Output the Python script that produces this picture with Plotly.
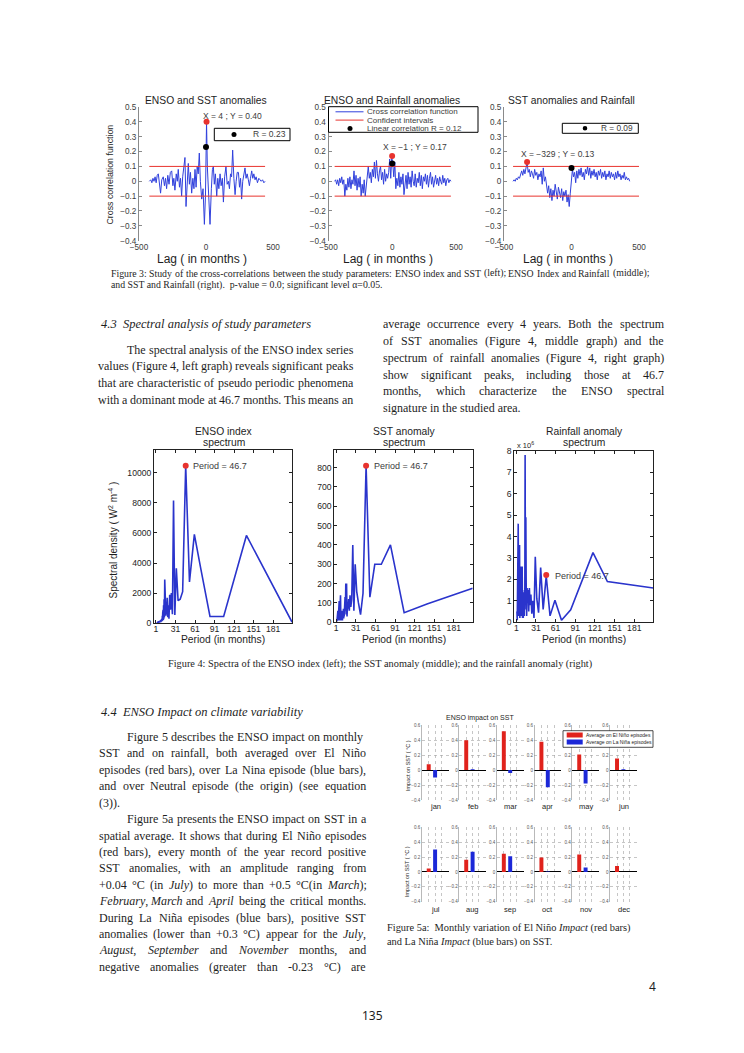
import re
import plotly.graph_objects as go

W, H = 744, 1053

# ======================= DATA =======================
# Figure 3 - cross-correlation functions (lag in months, correlation)
ccf1_lags = [-423, -412, -404, -396, -388, -380, -372, -364, -356, -348,
             -339, -330, -319, -310, -302, -294, -285, -276, -266, -256,
             -247, -240, -232, -222, -214, -207, -198, -190, -182, -174,
             -166, -157, -149, -140, -132, -124, -116, -107, -98, -90,
             -82, -74, -66, -58, -50, -42, -32, -22, -12, -4,
             4, 10, 18, 30, 40, 48, 55, 62, 70, 80,
             88, 96, 105, 113, 122, 130, 139, 149, 158, 167,
             175, 183, 191, 199, 208, 217, 225, 233, 242, 250,
             258, 266, 274, 282, 291, 299, 307, 316, 324, 332,
             341, 349, 357, 366, 374, 384, 394, 403, 412, 422,
             432, 441]
ccf1_vals = [0.00, 0.01, -0.01, 0.02, 0.00, 0.03, -0.01, 0.04, 0.05, -0.02,
             -0.08, 0.01, 0.03, -0.03, 0.02, -0.05, 0.04, -0.02, 0.06, 0.07,
             -0.03, 0.02, -0.06, 0.05, 0.00, 0.08, -0.04, 0.02, -0.10, 0.03,
             0.10, 0.16, -0.17, 0.05, 0.12, -0.02, 0.06, -0.08, 0.02, -0.05,
             0.08, -0.04, 0.10, 0.05, 0.19, 0.00, -0.12, -0.05, -0.29, -0.10,
             0.40, 0.10, -0.05, -0.29, -0.05, 0.08, 0.10, -0.02, 0.05, -0.10,
             0.02, -0.05, 0.05, -0.03, 0.02, -0.14, 0.03, 0.10, -0.02, 0.00,
             -0.05, 0.05, 0.03, 0.21, 0.02, -0.09, 0.00, 0.06, 0.06, -0.04,
             0.02, -0.12, 0.00, 0.04, 0.09, 0.02, 0.05, 0.01, -0.03, 0.02,
             0.07, 0.02, 0.05, 0.01, 0.03, -0.01, 0.02, 0.01, 0.00, 0.01,
             -0.01, 0.00]

ccf2_lag0, ccf2_step = -452, 8
ccf2_vals = [0.00, 0.01, -0.02, 0.01, -0.03, 0.02, -0.01, 0.03, -0.02, 0.01,
             -0.10, -0.02, -0.06, 0.02,
             -0.04, 0.03, -0.05, 0.01, -0.02, 0.07, -0.03, 0.04, -0.06, 0.02, -0.04, 0.03,
             -0.10, -0.02, -0.08, 0.01, -0.10, -0.03, 0.05,
             0.10, 0.02, 0.06, -0.01, 0.08, 0.03, 0.13, 0.02, 0.14, 0.05,
             0.00, 0.07, 0.10, 0.01, 0.06, -0.02, 0.08, 0.00, 0.05, 0.02,
             0.06, 0.15, 0.02, 0.16, 0.12, 0.03, 0.13,
             -0.05, 0.02, -0.03, 0.06, -0.04, 0.03, -0.02, 0.05, -0.09, 0.01,
             0.04, -0.05, 0.06, -0.02, 0.03, -0.04, 0.07, 0.00, -0.03, 0.05,
             -0.04, 0.02, -0.01, 0.06, -0.03, 0.04, -0.05, 0.03, 0.00, 0.05,
             -0.02, 0.04, -0.04, 0.02, 0.06,
             -0.02, 0.03, -0.04, 0.01, 0.04, -0.02, 0.02, -0.03, 0.03, 0.00,
             -0.02, 0.04, -0.01, 0.02, -0.03, 0.01, 0.02, -0.01, 0.01, 0.00]

ccf3_lag0, ccf3_step = -433, 8
ccf3_vals = [0.00, 0.01, 0.00, 0.02, 0.01, 0.03, 0.02, 0.05,
             0.07, 0.04, 0.08, 0.05, 0.09, 0.13, 0.06, 0.08, 0.03, 0.07,
             0.05, 0.02, 0.08, 0.04, 0.06, 0.01, 0.05, 0.03, 0.07,
             -0.02, 0.09, 0.00, 0.03, -0.04,
             -0.08, -0.03, -0.11, -0.05, -0.13, -0.06, -0.10, -0.02, -0.09, -0.12,
             -0.04, -0.08, -0.11, -0.05, -0.13, -0.07, -0.10, -0.06, -0.14, -0.09,
             -0.17, -0.08,
             0.02, 0.08, 0.03, 0.06, -0.01, 0.07, 0.02, 0.08, 0.04, 0.09,
             0.03, 0.06, 0.01, 0.08, 0.05, 0.10, 0.04, 0.09, 0.02, 0.07,
             0.04, 0.08, 0.03, 0.06, 0.01, 0.07, 0.04, 0.08, 0.02, 0.06,
             0.03, 0.07, 0.01, 0.05, 0.03, 0.07, 0.02, 0.06, 0.03, 0.05,
             0.01, 0.06, 0.02, 0.07, 0.03, 0.05, 0.01, 0.04, 0.02, 0.06,
             0.01, 0.03, 0.01, 0.02, 0.00]

ci_level = 0.1
ci_from = [-423, -452, -433]
ci_to = [441, 460, 500]
ccf_peak_lag = [4, -1, -329]
ccf_peak_val = [0.40, 0.17, 0.13]
ccf_r = [0.23, 0.12, 0.09]
ccf_titles = ["ENSO and SST anomalies", "ENSO and Rainfall anomalies", "SST anomalies and Rainfall"]
ccf_ticks = [-500, 0, 500]

# Figure 4 - spectra (period in months, spectral density)
periods = [210, 140, 105, 84, 70, 60, 52.5, 46.7, 42, 38.2, 35, 32.3, 30, 28, 26.3, 24.7,
           23.3, 22.1, 21, 20, 19.1, 18.3, 17.5, 16.8, 16.2, 15.6, 15, 14.5, 14, 13.5, 13.1, 12.7,
           12.4, 12, 11.7, 11.4, 11.1, 10.8, 10.5, 10, 9.5, 9, 8.5, 8, 7.5, 7, 6.5, 6,
           5.5, 5, 4.5, 4, 3.5, 3, 2.5, 2]
rain_periods = [210, 140, 118, 84, 70, 60, 52.5, 46.7, 42, 38.2, 35, 32.3, 30, 28, 26.3, 24.7,
                23.3, 22.1, 21, 20, 19.1, 18.3, 17.5, 16.8, 16.2, 15.6, 15, 14.5, 14, 13.5, 13.1, 12.7,
                12.4, 12, 11.7, 11.4, 11.1, 10.8, 10.5, 10, 9.5, 9, 8.5, 8, 7.5, 7, 6.5, 6,
                5.5, 5, 4.5, 4, 3.5, 3, 2.5, 2]
enso_spec = [80, 5830, 450, 450, 3600, 5900, 2750, 10450,
             2100, 1600, 1500, 3650, 550, 8150, 600, 2000,
             900, 1900, 300, 1200, 400, 1700, 600, 1300,
             500, 2500, 700, 2900, 400, 1600, 300, 1200,
             200, 900, 300, 700, 200, 500, 150, 300,
             100, 250, 80, 200, 60, 150, 50, 120,
             40, 100, 30, 80, 20, 60, 10, 30]
sst_spec = [176, 95, 50, 400, 300, 300, 130, 810,
            150, 40, 100, 160, 300, 60, 400, 120,
            80, 140, 60, 120, 70, 90, 30, 200,
            40, 200, 60, 130, 40, 80, 30, 60,
            20, 70, 30, 50, 20, 60, 10, 40,
            20, 60, 10, 30, 140, 20, 50, 10,
            110, 20, 40, 10, 60, 5, 20, 5]
rain_spec_e6 = [1.6, 1.9, 3.25, 0.58, 0.1, 1.03, 0.3, 2.15,
                0.6, 2.55, 0.45, 1.1, 3.05, 0.2, 1.0, 0.4,
                1.3, 0.8, 1.6, 0.5, 1.5, 0.9, 1.6, 0.3,
                1.3, 4.9, 1.0, 7.8, 0.6, 1.5, 0.3, 1.2,
                0.5, 1.4, 0.2, 1.1, 0.4, 1.3, 0.2, 2.6,
                0.5, 1.8, 0.3, 2.6, 0.6, 1.5, 0.2, 3.6,
                0.5, 2.0, 0.3, 4.6, 0.8, 2.2, 0.1, 0.5]
spec_peak_period = 46.7
spec_peak = [10450, 810, 2.2]
spec_titles = [("ENSO index", "spectrum"), ("SST anomaly", "spectrum"), ("Rainfall anomaly", "spectrum")]
period_ticks = [1, 31, 61, 91, 121, 151, 181]

# Figure 5a - ENSO impact on SST (deg C)
months = ["jan", "feb", "mar", "apr", "may", "jun", "jul", "aug", "sep", "oct", "nov", "dec"]
el_nino = [0.08, 0.40, 0.52, 0.38, 0.21, 0.155, 0.045, 0.165, 0.245, 0.195, 0.235, 0.08]
la_nina = [-0.10, 0.01, -0.04, -0.23, -0.18, 0.01, 0.30, 0.27, 0.21, 0.005, 0.06, 0.0]

# ======================= HELPERS =======================
SANS = "Liberation Sans, Arial, sans-serif"
SERIF = "Liberation Serif, Times New Roman, serif"
TXT = "#1e1e1e"
GTXT = "#3c3c3c"
BLUE = "#3040dc"
SBLUE = "#2a34cc"
RED = "#e8332e"
BRED = "#e0221c"
BBLUE = "#1c28d8"


def fx(x):
    return x / W


def fy(y):
    return 1 - y / H


fig = go.Figure()
layout = dict(width=W, height=H, margin=dict(l=0, r=0, t=0, b=0),
              paper_bgcolor="white", plot_bgcolor="rgba(0,0,0,0)", showlegend=False)
annotations = []
shapes = []


def ax_names(i):
    if i == 1:
        return "xaxis", "yaxis", "x", "y"
    return f"xaxis{i}", f"yaxis{i}", f"x{i}", f"y{i}"


def add_axes(i, x0, x1, ytop, ybot, xcfg, ycfg):
    xa, ya, xr, yr = ax_names(i)
    base = dict(showgrid=False, zeroline=False, automargin=False, fixedrange=True)
    layout[xa] = {**base, "domain": [fx(x0), fx(x1)], "anchor": yr, **xcfg}
    layout[ya] = {**base, "domain": [fy(ybot), fy(ytop)], "anchor": xr, **ycfg}
    return xr, yr


def note(text, x, y, size, family=SANS, color=TXT, xanchor="center", angle=0):
    annotations.append(dict(text=text, x=fx(x), y=fy(y), xref="paper", yref="paper",
                            showarrow=False, xanchor=xanchor, yanchor="middle",
                            textangle=angle, borderpad=0,
                            font=dict(family=family, size=size, color=color)))


def rect(x0, y0, x1, y1, line="black", fill="white", lw=1):
    shapes.append(dict(type="rect", xref="paper", yref="paper", x0=fx(x0), x1=fx(x1),
                       y0=fy(y1), y1=fy(y0), line=dict(color=line, width=lw), fillcolor=fill,
                       layer="above"))


def hline(x0, x1, y, color, lw=1):
    shapes.append(dict(type="line", xref="paper", yref="paper", x0=fx(x0), x1=fx(x1),
                       y0=fy(y), y1=fy(y), line=dict(color=color, width=lw), layer="above"))


def dot(cx, cy, r, color):
    shapes.append(dict(type="circle", xref="paper", yref="paper", x0=fx(cx - r), x1=fx(cx + r),
                       y0=fy(cy + r), y1=fy(cy - r), line=dict(color=color, width=0),
                       fillcolor=color, layer="above"))


_W = {}
for ch in " .,\u00a0":
    _W[ch] = 250
for ch in "ijlt:;":
    _W[ch] = 278
for ch in "fr()-I'":
    _W[ch] = 333
for ch in "sJ":
    _W[ch] = 389
_W["\u00b0"] = 400
for ch in "acez\u00e9":
    _W[ch] = 444
for ch in "FPS":
    _W[ch] = 556
for ch in "+=":
    _W[ch] = 564
for ch in "ELTZ":
    _W[ch] = 611
for ch in "BCR":
    _W[ch] = 667
for ch in "wADGHKNOQUVXY":
    _W[ch] = 722
_W["m"] = 778
_W["M"] = 889
_W["W"] = 944


def twidth(s, size):
    plain = re.sub(r"<[^>]+>", "", s)
    return sum(_W.get(c, 500) for c in plain) * size / 1000.0


def text_line(text, x0, x1, y, size, family=SERIF, color=TXT):
    words = text.split(" ")
    words = [w for w in words if w]
    if x1 is None or len(words) < 2:
        note(text, x0, y, size, family, color, xanchor="left")
        return
    ww = [twidth(w, size) for w in words]
    tot = sum(ww)
    gap = (x1 - x0 - tot) / (len(words) - 1)
    if gap < 0.2 * size:
        nat = tot + 0.25 * size * (len(words) - 1)
        note(text, x0, y, size * (x1 - x0) / nat, family, color, xanchor="left")
        return
    x = x0
    for w, wd in zip(words, ww):
        note(w, x, y, size, family, color, xanchor="left")
        x += wd + gap


# ======================= FIGURE 3 =======================
ccf_lags = [ccf1_lags,
            [ccf2_lag0 + ccf2_step * k for k in range(len(ccf2_vals))],
            [ccf3_lag0 + ccf3_step * k for k in range(len(ccf3_vals))]]
ccf_vals = [ccf1_vals, ccf2_vals, ccf3_vals]
ccf_boxes = [(139, 273), (328.5, 456), (504, 639)]
tickfont_s = dict(family=SANS, size=8.2, color=GTXT)
for k in range(3):
    x0, x1 = ccf_boxes[k]
    xr, yr = add_axes(k + 1, x0, x1, 107, 240.7,
                      dict(range=[-500, 500], tickvals=ccf_ticks, ticks="", showline=False,
                           tickfont=tickfont_s, ticklabelstandoff=0),
                      dict(range=[-0.4, 0.5], tick0=0, dtick=0.1, showline=True, linecolor="#8a8a8a",
                           linewidth=1, ticks="inside", ticklen=3, tickcolor="#8a8a8a",
                           tickfont=tickfont_s))
    fig.add_trace(go.Scatter(x=ccf_lags[k], y=ccf_vals[k], mode="lines",
                             line=dict(color=BLUE, width=1), xaxis=xr, yaxis=yr, hoverinfo="skip"))
    fig.add_trace(go.Scatter(x=[ci_from[k], ci_to[k], None, ci_from[k], ci_to[k]],
                             y=[ci_level, ci_level, None, -ci_level, -ci_level], mode="lines",
                             line=dict(color=RED, width=1), xaxis=xr, yaxis=yr, hoverinfo="skip"))
    fig.add_trace(go.Scatter(x=[ccf_peak_lag[k]], y=[ccf_peak_val[k]], mode="markers",
                             marker=dict(color=RED, size=6), xaxis=xr, yaxis=yr, hoverinfo="skip"))
    fig.add_trace(go.Scatter(x=[0], y=[ccf_r[k]], mode="markers",
                             marker=dict(color="black", size=6), xaxis=xr, yaxis=yr, hoverinfo="skip"))
    note(ccf_titles[k], (x0 + x1) / 2, 100, 10.3, SANS, TXT)
    note("Lag ( in months )", (x0 + x1) / 2 - 4, 258.5, 12, SANS, TXT)

note("Cross correlation function", 109.5, 175, 8.8, SANS, TXT, angle=-90)
# point labels
note(f"X = {ccf_peak_lag[0]} ; Y = {ccf_peak_val[0]:.2f}", 202, 115.5, 8.5, SANS, GTXT, xanchor="left")
note(f"X = \u2212{abs(ccf_peak_lag[1])} ; Y = {ccf_peak_val[1]:.2f}", 382, 147, 8.5, SANS, GTXT, xanchor="left")
note(f"X = \u2212{abs(ccf_peak_lag[2])} ; Y = {ccf_peak_val[2]:.2f}", 520, 154.5, 8.5, SANS, GTXT, xanchor="left")
# legend chart 1
rect(214.3, 128.3, 290, 140.7)
dot(234, 134.5, 2.5, "black")
note(f"R = {ccf_r[0]:.2f}", 251.5, 134.5, 8.5, SANS, GTXT, xanchor="left")
# legend chart 2
rect(328.5, 106.7, 478, 132.3)
hline(335.5, 363.5, 111.8, BLUE)
hline(335.5, 363.5, 120.1, RED)
dot(350, 128.4, 2.5, "black")
note("Cross correlation function", 366, 111.8, 8, SANS, GTXT, xanchor="left")
note("Confident intervals", 366, 120.1, 8, SANS, GTXT, xanchor="left")
note(f"Linear correlation R = {ccf_r[1]:.2f}", 366, 128.4, 8, SANS, GTXT, xanchor="left")
# legend chart 3
rect(562.3, 123.3, 638.3, 133.3)
dot(585, 128.3, 2.3, "black")
note(f"R = {ccf_r[2]:.2f}", 600, 128.3, 8.3, SANS, GTXT, xanchor="left")

# ======================= FIGURE 4 =======================
spec_boxes = [(154, 292, 450, 623.3), (334.3, 472.7, 450, 622.3), (514.3, 653.3, 450.7, 622.3)]
spec_ranges = [[0, 11500], [0, 891], [0, 8]]
spec_dtick = [2000, 100, 1]
spec_x = [periods, periods, rain_periods]
spec_y = [enso_spec, sst_spec, rain_spec_e6]
tf2 = dict(family=SANS, size=8.6, color=TXT)
for k in range(3):
    x0, x1, yt, yb = spec_boxes[k]
    xr, yr = add_axes(4 + k, x0, x1, yt, yb,
                      dict(range=[-2, 210], tickvals=period_ticks, showline=True, mirror="ticks",
                           linecolor="#222", linewidth=1, ticks="inside", ticklen=3, tickcolor="#222",
                           tickfont=tf2, ticklabelstandoff=-3),
                      dict(range=spec_ranges[k], tick0=0, dtick=spec_dtick[k], showline=True,
                           mirror="ticks", linecolor="#222", linewidth=1, ticks="inside", ticklen=3,
                           tickcolor="#222", tickfont=tf2, tickformat="d"))
    fig.add_trace(go.Scatter(x=spec_x[k], y=spec_y[k], mode="lines",
                             line=dict(color=SBLUE, width=1.6), xaxis=xr, yaxis=yr, hoverinfo="skip"))
    fig.add_trace(go.Scatter(x=[spec_peak_period], y=[spec_peak[k]], mode="markers",
                             marker=dict(color=RED, size=6), xaxis=xr, yaxis=yr, hoverinfo="skip"))
    cx = (x0 + x1) / 2
    note(spec_titles[k][0], cx + 0.5, 431.5, 10.3, SANS, TXT)
    note(spec_titles[k][1], cx + 0.5, 442, 10.3, SANS, TXT)
    note("Period (in months)", cx, 639.5, 10.3, SANS, TXT)

note("Period = 46.7", 191.5, 465.7, 9, SANS, GTXT, xanchor="left")
note("Period = 46.7", 373, 465.7, 9, SANS, GTXT, xanchor="left")
note("Period = 46.7", 554, 575.7, 9, SANS, GTXT, xanchor="left")
note("x 10<sup>6</sup>", 516, 444.5, 7.5, SANS, TXT, xanchor="left")
note("Spectral density ( W<sup>2</sup> m<sup>-4</sup> )", 112.5, 540, 10, SANS, TXT, angle=-90)

# ======================= FIGURE 5a =======================
bar_lefts = [421.7, 459.2, 496.8, 534.4, 572.2, 610]
bar_rows = [(725.3, 800), (827.3, 901.7)]
month_y = [806.7, 909.3]
tf3 = dict(family=SANS, size=4.5, color="#555")
for m in range(12):
    r, c = divmod(m, 6)
    x0 = bar_lefts[c]
    x1 = x0 + 26.8
    yt, yb = bar_rows[r]
    xr, yr = add_axes(7 + m, x0, x1, yt, yb,
                      dict(range=[-0.1, 4.1], tickvals=[0, 1, 2, 3, 4], showticklabels=False, ticks="",
                           showgrid=True, gridcolor="#a0a0a0", griddash="dot", gridwidth=0.6),
                      dict(range=[-0.4, 0.6], tick0=0, dtick=0.2, showgrid=True, gridcolor="#a0a0a0",
                           griddash="dot", gridwidth=0.6, zeroline=True, zerolinecolor="black",
                           zerolinewidth=1, showline=True, linecolor="#8a8a8a", linewidth=0.6,
                           ticks="", tickfont=tf3))
    fig.add_trace(go.Bar(x=[1, 2], y=[el_nino[m], la_nina[m]], width=0.62,
                         marker=dict(color=[BRED, BBLUE], line=dict(width=0)),
                         xaxis=xr, yaxis=yr, hoverinfo="skip"))
    note(months[m], x0 + 13.5, month_y[r], 7.5, SANS, TXT)

note("ENSO impact on SST", 480, 717.5, 7, SANS, TXT)
note("Impact on SST ( \u00b0C )", 408, 765, 5.5, SANS, TXT, angle=-90)
note("Impact on SST ( \u00b0C )", 407, 871, 5.5, SANS, TXT, angle=-90)
rect(563, 730.7, 653, 747.3, lw=0.7)
shapes.append(dict(type="rect", xref="paper", yref="paper", x0=fx(566.7), x1=fx(582.7),
                   y0=fy(737.5), y1=fy(732.5), line=dict(width=0), fillcolor=BRED, layer="above"))
shapes.append(dict(type="rect", xref="paper", yref="paper", x0=fx(566.7), x1=fx(582.7),
                   y0=fy(744.5), y1=fy(739.5), line=dict(width=0), fillcolor=BBLUE, layer="above"))
note("Average on El Ni\u00f1o episodes", 584.5, 735, 5, SANS, TXT, xanchor="left")
note("Average on La Ni\u00f1a episodes", 584.5, 742, 5, SANS, TXT, xanchor="left")

# ======================= PAGE TEXT =======================
NB = "\u00a0"
text_line("Figure 3: Study of the cross-correlations between the study parameters: ENSO index and SST (left); ENSO Index and Rainfall (middle);",
          110, 648, 273.5, 9.8)
text_line(f"and SST and Rainfall (right).{NB}{NB}p-value = 0.0; significant level \u03b1=0.05.", 110, None, 285, 9.8)

note(f"<i>4.3{NB}{NB}Spectral analysis of study parameters</i>", 100, 324, 12.5, SERIF, TXT, xanchor="left")

left_top = [
    ("The spectral analysis of the ENSO index series", 126, 352, 349.5),
    ("values (Figure 4, left graph) reveals significant peaks", 97, 352, 366.5),
    ("that are characteristic of pseudo periodic phenomena", 97, 352, 383),
    ("with a dominant mode at 46.7 months. This means an", 97, 352, 400),
]
for t, a, b, y in left_top:
    text_line(t, a, b, y, 12)

right_top = [
    ("average occurrence every 4 years. Both the spectrum", 382, 663, 324.3),
    ("of SST anomalies (Figure 4, middle graph) and the", 382, 663, 341),
    ("spectrum of rainfall anomalies (Figure 4, right graph)", 382, 663, 357.7),
    ("show significant peaks, including those at 46.7", 382, 663, 374.5),
    ("months, which characterize the ENSO spectral", 382, 663, 391.3),
    ("signature in the studied area.", 382, None, 408),
]
for t, a, b, y in right_top:
    text_line(t, a, b, y, 12)

text_line("Figure 4: Spectra of the ENSO index (left); the SST anomaly (middle); and the rainfall anomaly (right)",
          167, None, 664, 10.3)

note(f"<i>4.4{NB}{NB}ENSO Impact on climate variability</i>", 100, 711.5, 12.5, SERIF, TXT, xanchor="left")

left_bottom = [
    ("Figure 5 describes the ENSO impact on monthly", 126, 362, 736.5),
    ("SST and on rainfall, both averaged over El Ni\u00f1o", 98, 365, 753),
    ("episodes (red bars), over La Nina episode (blue bars),", 98, 365, 769.7),
    ("and over Neutral episode (the origin) (see equation", 98, 365, 786.2),
    ("(3)).", 98, None, 802.5),
    ("Figure 5a presents the ENSO impact on SST in a", 126, 365, 819),
    ("spatial average. It shows that during El Ni\u00f1o episodes", 98, 365, 835.5),
    ("(red bars), every month of the year record positive", 98, 365, 851.8),
    ("SST anomalies, with an amplitude ranging from", 98, 365, 868.2),
    ("+0.04 \u00b0C (in <i>July</i>) to more than +0.5 \u00b0C(in <i>March</i>);", 98, 365, 884.7),
    ("<i>February</i>, <i>March</i> and <i>April</i> being the critical months.", 98, 365, 901),
    ("During La Ni\u00f1a episodes (blue bars), positive SST", 98, 365, 917.5),
    ("anomalies (lower than +0.3 \u00b0C) appear for the <i>July</i>,", 98, 365, 934),
    ("<i>August</i>, <i>September</i> and <i>November</i> months, and", 98, 365, 950.3),
    ("negative anomalies (greater than -0.23 \u00b0C) are", 98, 365, 966.7),
]
for t, a, b, y in left_bottom:
    text_line(t, a, b, y, 12)

text_line(f"Figure 5a:{NB}{NB}Monthly variation of El Ni\u00f1o <i>Impact</i> (red bars)", 386, None, 928, 10.4)
text_line("and La Ni\u00f1a <i>Impact</i> (blue bars) on SST.", 386, None, 942, 10.4)

note("4", 652, 986, 12, "Noto Sans, Liberation Sans, sans-serif", TXT)
note("135", 372, 1015, 12, "Noto Sans, Liberation Sans, sans-serif", TXT)

layout["annotations"] = annotations
layout["shapes"] = shapes
fig.update_layout(layout)

fig.write_html("out.html", config={"displayModeBar": False, "staticPlot": True},
               post_script="document.body.style.margin='0';document.body.style.overflow='hidden';")
